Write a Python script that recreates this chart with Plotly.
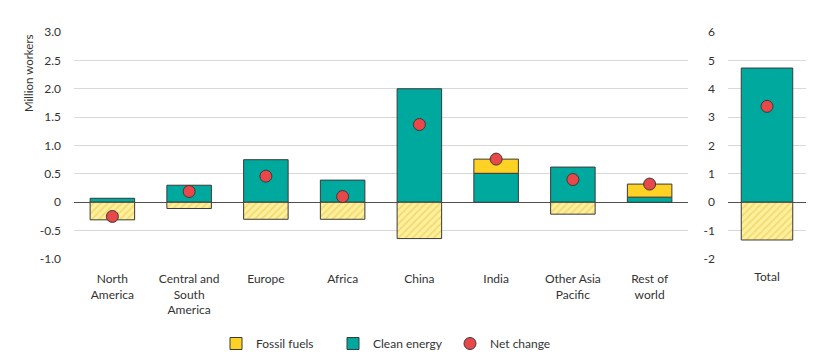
import plotly.graph_objects as go

regions = ["North<br>America", "Central and<br>South<br>America", "Europe", "Africa",
           "China", "India", "Other Asia<br>Pacific", "Rest of<br>world"]
clean = [0.07, 0.30, 0.75, 0.39, 2.00, 0.51, 0.62, 0.09]
fossil = [-0.31, -0.11, -0.30, -0.30, -0.64, 0.25, -0.21, 0.23]
net = [-0.25, 0.19, 0.46, 0.10, 1.37, 0.76, 0.40, 0.32]

total_cat = ["Total"]
total_clean = [4.73]
total_fossil = [-1.33]
total_net = [3.38]

left_ticks = [3.0, 2.5, 2.0, 1.5, 1.0, 0.5, 0, -0.5, -1.0]
left_ticktext = ["3.0", "2.5", "2.0", "1.5", "1.0", "0.5", "0", "-0.5", "-1.0"]
right_ticks = [6, 5, 4, 3, 2, 1, 0, -1, -2]
right_ticktext = ["6", "5", "4", "3", "2", "1", "0", "-1", "-2"]

TEAL = "#00A99D"
YELLOW = "#FDD225"
HATCH_BG = "#FFF0A0"
HATCH_FG = "#E8C53A"
RED = "#E8484A"
OUTLINE = "#3A3A3A"
TXT = "#333333"
FONT = "Lato"

fossil_pos = [v if v > 0 else None for v in fossil]
fossil_neg = [v if v < 0 else None for v in fossil]

fig = go.Figure()

hatch = dict(shape="/", bgcolor=HATCH_BG, fgcolor=HATCH_FG, size=5, solidity=0.35, fillmode="overlay")

# Left panel
fig.add_trace(go.Bar(x=regions, y=clean, name="Clean energy", marker=dict(color=TEAL, line=dict(color=OUTLINE, width=1)),
                     width=0.58, xaxis="x", yaxis="y", legendrank=2))
fig.add_trace(go.Bar(x=regions, y=fossil_pos, name="Fossil fuels", marker=dict(color=YELLOW, line=dict(color=OUTLINE, width=1)),
                     width=0.58, xaxis="x", yaxis="y", legendrank=1))
fig.add_trace(go.Bar(x=regions, y=fossil_neg, name="Fossil fuels (decline)", showlegend=False,
                     marker=dict(color=HATCH_BG, pattern=hatch, line=dict(color=OUTLINE, width=1)),
                     width=0.58, xaxis="x", yaxis="y"))
fig.add_trace(go.Scatter(x=regions, y=net, mode="markers", name="Net change", legendrank=3,
                         marker=dict(color=RED, size=12, line=dict(color=OUTLINE, width=1)),
                         xaxis="x", yaxis="y"))

# Right panel
fig.add_trace(go.Bar(x=total_cat, y=total_clean, showlegend=False, marker=dict(color=TEAL, line=dict(color=OUTLINE, width=1)),
                     width=0.66, xaxis="x2", yaxis="y2"))
fig.add_trace(go.Bar(x=total_cat, y=total_fossil, showlegend=False,
                     marker=dict(color=HATCH_BG, pattern=hatch, line=dict(color=OUTLINE, width=1)),
                     width=0.66, xaxis="x2", yaxis="y2"))
fig.add_trace(go.Scatter(x=total_cat, y=total_net, mode="markers", showlegend=False,
                         marker=dict(color=RED, size=12, line=dict(color=OUTLINE, width=1)),
                         xaxis="x2", yaxis="y2"))

W, H = 816, 350
axis_common = dict(showgrid=True, gridcolor="#D9D9D9", gridwidth=1.3, zeroline=True,
                   zerolinecolor="#505050", zerolinewidth=1.3, showline=False, ticks="",
                   tickfont=dict(family=FONT, size=12, color=TXT), ticklabelstandoff=12)

fig.update_layout(
    width=W, height=H,
    margin=dict(l=0, r=0, t=24, b=98),
    paper_bgcolor="white", plot_bgcolor="white",
    barmode="relative",
    font=dict(family=FONT, size=12, color=TXT),
    xaxis=dict(domain=[66 / W, 680 / W], showgrid=False, zeroline=False, showline=False, ticks="",
               tickfont=dict(family=FONT, size=12, color=TXT), ticklabelstandoff=11),
    xaxis2=dict(domain=[720 / W, 798 / W], showgrid=False, zeroline=False, showline=False, ticks="",
                tickfont=dict(family=FONT, size=12, color=TXT), anchor="y2", ticklabelstandoff=9),
    yaxis=dict(range=[-1.0, 3.0], tickvals=left_ticks, ticktext=left_ticktext, **axis_common),
    yaxis2=dict(range=[-2, 6], tickvals=right_ticks, ticktext=right_ticktext, anchor="x2", **axis_common),
    legend=dict(orientation="h", x=208 / W, xanchor="left", y=(252 - 337) / 228, yanchor="middle",
                font=dict(family=FONT, size=12, color=TXT), traceorder="normal",
                itemwidth=30, entrywidth=72, tracegroupgap=0),
    showlegend=True,
    annotations=[dict(text="Million workers", x=20 / W, y=1.0, xref="paper", yref="paper",
                      xanchor="center", yanchor="top", textangle=-90, showarrow=False,
                      font=dict(family=FONT, size=11.5, color=TXT))],
)

fig.write_html("out.html")
